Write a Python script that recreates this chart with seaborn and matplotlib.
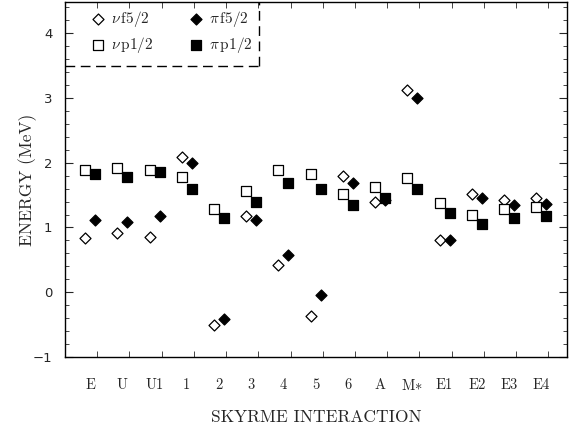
import numpy as np
import pandas as pd
import matplotlib
matplotlib.use("Agg")
import matplotlib.pyplot as plt
import seaborn as sns

# Skyrme interactions and single-particle level energies (MeV)
interactions = ["E", "U", "U1", "1", "2", "3", "4", "5", "6", "A", r"M$\ast$", "E1", "E2", "E3", "E4"]
nu_f52 = [0.83, 0.92, 0.85, 2.09, -0.51, 1.18, 0.42, -0.37, 1.80, 1.40, 3.12, 0.81, 1.52, 1.42, 1.45]
pi_f52 = [1.11, 1.09, 1.18, 2.00, -0.42, 1.12, 0.57, -0.05, 1.68, 1.42, 3.00, 0.81, 1.46, 1.35, 1.37]
nu_p12 = [1.88, 1.92, 1.88, 1.78, 1.29, 1.57, 1.89, 1.82, 1.51, 1.63, 1.77, 1.38, 1.20, 1.29, 1.31]
pi_p12 = [1.83, 1.78, 1.85, 1.60, 1.15, 1.40, 1.68, 1.60, 1.35, 1.46, 1.60, 1.23, 1.05, 1.14, 1.17]

idx = np.arange(1, len(interactions) + 1)
df = pd.DataFrame({"pos": idx, "nu_f52": nu_f52, "pi_f52": pi_f52,
                   "nu_p12": nu_p12, "pi_p12": pi_p12})

sns.set_style("ticks")
plt.rcParams["mathtext.fontset"] = "cm"
plt.rcParams["font.family"] = ["cmr10", "DejaVu Serif"]
plt.rcParams["axes.unicode_minus"] = True

fig = plt.figure(figsize=(5.78, 4.26), dpi=100)
ax = fig.add_axes([0.1125, 0.162, 0.869, 0.833])

off = 0.155
series = [
    ("nu_f52", -off, "D", "white", r"$\nu\,$f5/2", 5.6),
    ("pi_f52", off, "D", "black", r"$\pi\,$f5/2", 5.6),
    ("nu_p12", -off, "s", "white", r"$\nu\,$p1/2", 7.2),
    ("pi_p12", off, "s", "black", r"$\pi\,$p1/2", 7.2),
]
for col, dx, mk, face, lab, ms in series:
    sns.scatterplot(x=df["pos"] + dx, y=df[col], ax=ax, marker=mk, s=ms ** 2,
                    color=face, edgecolor="black", linewidth=0.9, label=lab, zorder=3)

ax.set_xlim(0.22, 15.81)
ax.set_ylim(-1, 4.48)

ax.set_xticks(idx, interactions, fontsize=10.5)
ax.tick_params(axis="x", which="major", length=0, pad=15)
ax.set_xticks(idx + 0.22, minor=True)
ax.tick_params(axis="x", which="minor", direction="in", length=4, top=True, width=0.6)

ax.set_yticks([-1, 0, 1, 2, 3, 4])
ax.set_yticks(np.arange(-1, 4.5, 0.2), minor=True)
ax.tick_params(axis="y", which="major", direction="in", length=6, right=True, pad=9, width=0.8)
ax.tick_params(axis="y", which="minor", direction="in", length=3, right=True, width=0.6)
for t in ax.get_yticklabels():
    t.set_family("DejaVu Sans")
    t.set_fontsize(9.5)

for s in ax.spines.values():
    s.set_linewidth(1.0)
    s.set_color("black")

ax.set_xlabel("SKYRME INTERACTION", fontsize=12.5, labelpad=12)
ax.set_ylabel("ENERGY (MeV)", fontsize=12.5)
ax.yaxis.set_label_coords(-0.056, 0.5)

# legend with dashed box (row order: f5/2 on top, p1/2 below)
h, l = ax.get_legend_handles_labels()
order = [0, 2, 1, 3]
ax.legend([h[i] for i in order], [l[i] for i in order], ncol=2, loc="upper left",
          frameon=False, fontsize=11, bbox_to_anchor=(0.02, 1.02), handletextpad=0.25,
          columnspacing=2.2, labelspacing=0.4, handlelength=1.2)
ax.plot([0, 0.386], [0.82, 0.82], transform=ax.transAxes, color="black",
        lw=1.0, ls=(0, (7, 4)), clip_on=False)
ax.plot([0.386, 0.386], [0.82, 1.0], transform=ax.transAxes, color="black",
        lw=1.0, ls=(0, (7, 4)), clip_on=False)

fig.savefig("out.png", dpi=100)
